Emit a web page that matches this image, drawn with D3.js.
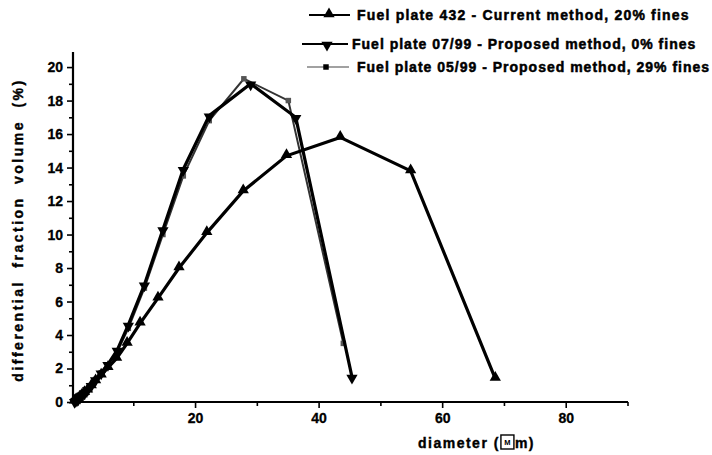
<!DOCTYPE html>
<html><head><meta charset="utf-8">
<script src="https://cdn.jsdelivr.net/npm/d3@7"></script>
<style>body{margin:0;background:#fff}svg{display:block}text{font-family:"Liberation Sans",Arial,sans-serif;font-weight:bold;fill:#000}</style>
</head><body><svg id="c" width="712" height="455"></svg>
<script>
const seriesNames = ["Fuel plate 432 - Current method, 20% fines","Fuel plate 07/99 - Proposed method, 0% fines","Fuel plate 05/99 - Proposed method, 29% fines"];
const s1x = [0.5,0.7,0.9,1.1,1.4,1.7,2.1,2.6,3.2,3.9,4.8,5.9,7.3,9.0,11.1,14.0,17.4,21.9,27.8,34.8,43.5,54.9,68.6];
const s1y = [0.05,0.1,0.15,0.2,0.3,0.4,0.55,0.7,0.95,1.25,1.6,2.05,2.6,3.5,4.7,6.2,8.0,10.1,12.6,14.7,15.8,13.8,1.4];
const s2x = [0.5,0.7,0.9,1.1,1.4,1.7,2.1,2.6,3.2,3.9,4.8,5.9,7.4,9.2,11.8,14.8,18.1,22.3,29.0,36.3,45.4];
const s2y = [0.05,0.1,0.15,0.2,0.3,0.4,0.55,0.75,1.0,1.35,1.75,2.25,3.1,4.6,7.0,10.3,13.9,17.1,19.0,17.0,1.5];
const s3x = [0.5,0.7,0.9,1.1,1.4,1.7,2.1,2.6,3.2,3.9,4.8,5.9,7.4,9.2,11.8,14.8,18.1,22.3,27.9,35.1,44.0];
const s3y = [0.05,0.1,0.15,0.2,0.3,0.4,0.55,0.75,1.0,1.35,1.75,2.2,3.0,4.4,6.8,10.0,13.5,16.8,19.3,18.0,3.5];
const xTicks = [20,40,60,80];
const yTicks = [0,2,4,6,8,10,12,14,16,18,20];

const svg = d3.select("#c");
const x = d3.scaleLinear().domain([0,90]).range([71.5,627.5]);
const y = d3.scaleLinear().domain([0,20.9]).range([402,52]);

// axes
const xa = svg.append("g").attr("transform","translate(0,402)");
xa.call(d3.axisBottom(x).tickValues(xTicks).tickSize(6).tickPadding(5).tickFormat(d3.format("d")));
xa.append("g").call(d3.axisBottom(x).tickValues([10,30,50,70,90]).tickSize(4).tickFormat(""));
xa.selectAll(".domain").remove();
xa.append("line").attr("x1",73).attr("x2",628).attr("stroke","#000").attr("stroke-width",2.2);
xa.selectAll(".tick line").attr("stroke","#000").attr("stroke-width",1.6);
xa.selectAll(".tick text").attr("font-size",14).attr("font-family","'Liberation Sans',Arial,sans-serif").attr("font-weight","bold").attr("stroke","#000").attr("stroke-width",0.3);

const ya = svg.append("g").attr("transform","translate(73,0)");
ya.call(d3.axisLeft(y).tickValues(yTicks).tickSize(6).tickPadding(4).tickFormat(d3.format("d")));
ya.append("g").call(d3.axisLeft(y).tickValues(d3.range(1,21,2)).tickSize(4).tickFormat(""));
ya.selectAll(".domain").remove();
ya.append("line").attr("y1",52).attr("y2",402).attr("stroke","#000").attr("stroke-width",2.2);
ya.selectAll(".tick line").attr("stroke","#000").attr("stroke-width",1.6);
ya.selectAll(".tick text").attr("font-size",14).attr("font-family","'Liberation Sans',Arial,sans-serif").attr("font-weight","bold").attr("stroke","#000").attr("stroke-width",0.3);

// series
const line = d3.line().x(d=>x(d[0])).y(d=>y(d[1]));
const tri = d3.symbol().type(d3.symbolTriangle).size(55);
const sq = d3.symbol().type(d3.symbolSquare).size(30);
const data3 = d3.zip(s3x,s3y), data2 = d3.zip(s2x,s2y), data1 = d3.zip(s1x,s1y);

svg.append("path").datum(data3).attr("d",line).attr("fill","none").attr("stroke","#333").attr("stroke-width",2);
svg.selectAll(".m3").data(data3).join("path").attr("d",sq).attr("fill","#555")
  .attr("transform",d=>`translate(${x(d[0])},${y(d[1])})`);
svg.append("path").datum(data2).attr("d",line).attr("fill","none").attr("stroke","#000").attr("stroke-width",3.2);
svg.selectAll(".m2").data(data2).join("path").attr("d",tri).attr("fill","#000")
  .attr("transform",d=>`translate(${x(d[0])},${y(d[1])+1}) rotate(180)`);
svg.append("path").datum(data1).attr("d",line).attr("fill","none").attr("stroke","#000").attr("stroke-width",3.2);
svg.selectAll(".m1").data(data1).join("path").attr("d",tri).attr("fill","#000")
  .attr("transform",d=>`translate(${x(d[0])},${y(d[1])-1})`);

// legend
const leg = [
  {y:15, x1:309, x2:350, mx:329, tx:357, type:"up", w:2.2, c:"#000"},
  {y:44, x1:302, x2:348, mx:327, tx:352, type:"down", w:2.2, c:"#000"},
  {y:67, x1:307, x2:349, mx:326, tx:357, type:"sq", w:1.2, c:"#444"}
];
leg.forEach((l,i)=>{
  svg.append("line").attr("x1",l.x1).attr("x2",l.x2).attr("y1",l.y).attr("y2",l.y).attr("stroke",l.c).attr("stroke-width",l.w);
  const m = svg.append("path").attr("fill","#000");
  if(l.type==="up") m.attr("d",tri).attr("transform",`translate(${l.mx},${l.y-1})`);
  else if(l.type==="down") m.attr("d",tri).attr("transform",`translate(${l.mx},${l.y+1}) rotate(180)`);
  else m.attr("d",sq).attr("transform",`translate(${l.mx},${l.y})`);
  svg.append("text").attr("x",l.tx).attr("y",l.y+5).attr("font-size",14).attr("letter-spacing",i===0?1.2:1)
    .attr("stroke","#000").attr("stroke-width",0.5).text(seriesNames[i]);
});

// axis titles
svg.append("text").attr("transform","translate(23,230) rotate(-90)").attr("text-anchor","middle")
  .attr("font-size",14).attr("letter-spacing",2.5).attr("word-spacing",6)
  .attr("stroke","#000").attr("stroke-width",0.4)
  .text("differential fraction volume (%)");
const xt = svg.append("text").attr("x",418).attr("y",448).attr("font-size",14).attr("letter-spacing",1.5)
  .attr("stroke","#000").attr("stroke-width",0.4).text("diameter (");
const bw = xt.node().getComputedTextLength();
svg.append("rect").attr("x",418+bw+1).attr("y",435).attr("width",13).attr("height",14).attr("fill","none").attr("stroke","#000").attr("stroke-width",1.4);
svg.append("text").attr("x",418+bw+7.5).attr("y",445).attr("font-size",7.5).attr("text-anchor","middle").text("M");
svg.append("text").attr("x",418+bw+15).attr("y",448).attr("font-size",14).attr("letter-spacing",1.5)
  .attr("stroke","#000").attr("stroke-width",0.4).text("m)");
</script></body></html>
